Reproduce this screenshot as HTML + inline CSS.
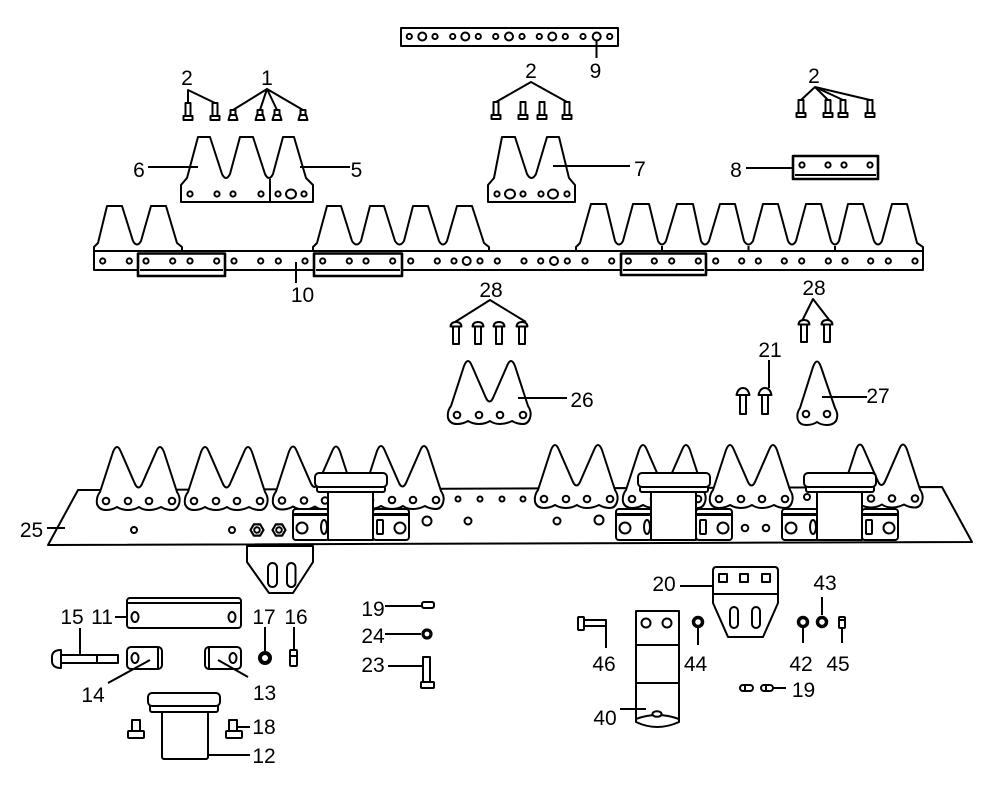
<!DOCTYPE html>
<html><head><meta charset="utf-8"><style>
html,body{margin:0;padding:0;background:#fff;}
svg{display:block;}
text{font-family:"Liberation Sans",sans-serif;font-size:21px;fill:#000;text-anchor:middle;}
</style></head><body>
<svg width="1000" height="787" viewBox="0 0 1000 787" xmlns="http://www.w3.org/2000/svg">
<defs>
<g id="sec">
<path d="M3,492 L16,452 Q20,442 24,452 L38,484 Q41.5,491 45,484 L59,452 Q63,442 67,452 L80,492 Q84,498 82,504 Q80,510 75,510 Q69,510 64,507 Q58,510 52,510 Q46,510 42,507 Q37,510 31,510 Q25,510 20,507 Q15,510 9,510 Q2,510 0,504 Q-1,497 3,492 Z"/>
<circle cx="9" cy="501" r="3.3"/><circle cx="31" cy="501" r="3.3"/><circle cx="52" cy="501" r="3.3"/><circle cx="75" cy="501" r="3.3"/>
</g>
<g id="clamp">
<rect x="-22" y="509" width="36" height="31" rx="3"/>
<rect x="-21" y="513" width="34" height="3" fill="#000" stroke="none"/>
<circle cx="-13" cy="528" r="5.5"/>
<ellipse cx="9" cy="527" rx="3" ry="7"/>
<rect x="58" y="509" width="36" height="31" rx="3"/>
<rect x="59" y="513" width="34" height="3" fill="#000" stroke="none"/>
<rect x="62" y="520" width="6" height="14" rx="1"/>
<circle cx="85" cy="528" r="5.5"/>
<rect x="13" y="487" width="45" height="53"/>
<rect x="2" y="486" width="68" height="6" rx="2"/>
<rect x="0" y="473" width="72" height="14" rx="4"/>
</g>
<g id="bd"><rect x="-2.5" y="0" width="5" height="13"/><rect x="-4.5" y="13" width="9" height="4"/></g>
<g id="b1"><rect x="-2.5" y="0" width="5" height="5"/><path d="M-3,5 L3,5 L4.5,10 L-4.5,10 Z"/></g>
<g id="bu"><rect x="-3" y="4" width="6" height="18"/><path d="M-5.5,4.5 Q-5,0 0,0 Q5,0 5.5,4.5 Z"/></g>
<g id="cb"><rect x="-3" y="5" width="6" height="20"/><path d="M-6.5,6 Q-5,-1 0,-1 Q5,-1 6.5,6 Z"/></g>
</defs>

<g fill="#fff" stroke="#000" stroke-width="2" stroke-linejoin="round">
<!-- part 9 -->
<rect x="401" y="28" width="217" height="18"/>
<g>
<circle cx="409.3" cy="36.5" r="2.6"/><circle cx="422.3" cy="36.5" r="4"/><circle cx="435" cy="36.5" r="2.6"/>
<circle cx="452.7" cy="36.5" r="2.6"/><circle cx="465.3" cy="36.5" r="4"/><circle cx="478.3" cy="36.5" r="2.6"/>
<circle cx="495.7" cy="36.5" r="2.6"/><circle cx="509" cy="36.5" r="4"/><circle cx="522" cy="36.5" r="2.6"/>
<circle cx="539.3" cy="36.5" r="2.6"/><circle cx="552.3" cy="36.5" r="4"/><circle cx="565.3" cy="36.5" r="2.6"/>
<circle cx="583" cy="36.5" r="2.6"/><circle cx="596.7" cy="36.5" r="4"/><circle cx="609.7" cy="36.5" r="2.6"/>
</g>
<path d="M596.5,41 V58" fill="none"/>

<!-- top bolts -->
<use href="#bd" x="188" y="103"/><use href="#bd" x="215" y="103"/>
<use href="#b1" x="233" y="110"/><use href="#b1" x="260" y="110"/><use href="#b1" x="277" y="110"/><use href="#b1" x="303" y="110"/>
<use href="#bd" x="496" y="102"/><use href="#bd" x="523" y="102"/><use href="#bd" x="542" y="102"/><use href="#bd" x="567" y="102"/>
<use href="#bd" x="801" y="100"/><use href="#bd" x="828" y="100"/><use href="#bd" x="843" y="100"/><use href="#bd" x="870" y="100"/>
<path d="M188,103 V90 L215,103 M233,110 L267,89 L260,110 M267,89 L277,110 M267,89 L303,110 M496,102 L531,82 L567,102 M801,100 L815,87 L828,100 M815,87 L843,100 M815,87 L870,100" fill="none"/>

<!-- part 6/5 -->
<path d="M181,202 L181,185 L187,178 L198,137 L210,137 L222,174 Q226,182 230,174 L240,137 L253,137 L265,174 Q269,182 273,174 L283,137 L294,137 L306,178 L313,185 L313,202 Z"/>
<path d="M270,179 V202" fill="none"/>
<circle cx="190" cy="194" r="2.6"/><circle cx="217" cy="194" r="2.6"/><circle cx="233" cy="194" r="2.6"/><circle cx="261" cy="194" r="2.6"/>
<circle cx="278" cy="194" r="2.6"/><ellipse cx="291" cy="194" rx="5" ry="4.5"/><circle cx="304" cy="194" r="2.6"/>
<path d="M148,167 H198 M300,167 H350" fill="none"/>

<!-- part 7 -->
<path d="M488,202 L488,185 L494,178 L502,137 L515,137 L527,174 Q531.5,182 536,174 L547,137 L559,137 L569,178 L575,185 L575,202 Z"/>
<circle cx="497" cy="194" r="2.6"/><ellipse cx="510" cy="194" rx="5" ry="4.5"/><circle cx="523" cy="194" r="2.6"/>
<circle cx="541" cy="194" r="2.6"/><ellipse cx="553" cy="194" rx="5" ry="4.5"/><circle cx="567" cy="194" r="2.6"/>
<path d="M553,166 H630" fill="none"/>

<!-- part 8 -->
<rect x="793" y="156" width="85" height="23" stroke-width="2.6"/>
<path d="M795,175 H876 M746,168 H793" fill="none"/>
<circle cx="802" cy="165" r="2.6"/><circle cx="828" cy="165" r="2.6"/><circle cx="844" cy="165" r="2.6"/><circle cx="870" cy="165" r="2.6"/>

<!-- knife teeth on bar -->
<path d="M94,251 L94,247 L98,243 L107,206 L122,206 L133,241 Q137,248 141,241 L151,206 L166,206 L177,243 L182,247 L182,251 Z"/>
<path d="M313,251 L313,247 L317,243 L327,206 L341,206 L352,241 Q356.5,248 361,241 L370,206 L384,206 L395,241 Q399.5,248 404,241 L413,206 L428,206 L439,241 Q443,248 447,241 L457,206 L472,206 L484,243 L489,247 L489,251 Z"/>
<path d="M576,251 L576,247 L580,243 L591,204 L606,204 L615,241 Q619,248 623,241 L633,204 L649,204 L658,241 Q662,248 666,241 L677,204 L693,204 L701,241 Q705,248 709,241 L720,204 L735,204 L744,241 Q748.5,248 753,241 L763,204 L778,204 L788,241 Q792,248 796,241 L806,204 L821,204 L831,241 Q835,248 839,241 L848,204 L863,204 L874,241 Q878,248 882,241 L892,204 L907,204 L917,243 L923,247 L923,251 Z"/>
<path d="M662,246 V251 M748.5,246 V251 M835,246 V251" fill="none"/>
<!-- bar 10 -->
<rect x="94" y="251" width="829" height="19"/>
<rect x="138" y="253.5" width="87" height="22.5" stroke-width="2.6"/>
<rect x="314" y="253.5" width="88" height="22.5" stroke-width="2.6"/>
<rect x="621" y="253.5" width="85" height="21.5" stroke-width="2.6"/>
<path d="M140,270 H223 M316,270 H400 M623,270 H704" fill="none"/>
<g>
<circle cx="102.7" cy="261" r="2.6"/><circle cx="129.3" cy="261" r="2.6"/><circle cx="146" cy="261" r="2.6"/><circle cx="172.7" cy="261" r="2.6"/>
<circle cx="190" cy="261" r="2.6"/><circle cx="216.7" cy="261" r="2.6"/><circle cx="234" cy="261" r="2.6"/><circle cx="260.7" cy="261" r="2.6"/>
<circle cx="278.3" cy="261" r="2.6"/><circle cx="305" cy="261" r="2.6"/><circle cx="322.7" cy="261" r="2.6"/><circle cx="349.3" cy="261" r="2.6"/>
<circle cx="366" cy="261" r="2.6"/><circle cx="392.7" cy="261" r="2.6"/><circle cx="410.7" cy="261" r="2.6"/><circle cx="437.3" cy="261" r="2.6"/>
<circle cx="454" cy="261" r="2.6"/><circle cx="466.7" cy="261" r="4"/><circle cx="480" cy="261" r="2.6"/><circle cx="497.3" cy="261" r="2.6"/>
<circle cx="524" cy="261" r="2.6"/><circle cx="540.7" cy="261" r="2.6"/><circle cx="554" cy="261" r="4"/><circle cx="567.3" cy="261" r="2.6"/>
<circle cx="585" cy="261" r="2.6"/><circle cx="611.7" cy="261" r="2.6"/><circle cx="628.3" cy="261" r="2.6"/><circle cx="654.3" cy="261" r="2.6"/>
<circle cx="671.7" cy="261" r="2.6"/><circle cx="698.3" cy="261" r="2.6"/><circle cx="715.7" cy="261" r="2.6"/><circle cx="741.7" cy="261" r="2.6"/>
<circle cx="758.3" cy="261" r="2.6"/><circle cx="784.3" cy="261" r="2.6"/><circle cx="801.7" cy="261" r="2.6"/><circle cx="828.3" cy="261" r="2.6"/>
<circle cx="845" cy="261" r="2.6"/><circle cx="870.7" cy="261" r="2.6"/><circle cx="888.3" cy="261" r="2.6"/><circle cx="915" cy="261" r="2.6"/>
</g>
<path d="M296,262 V283" fill="none"/>

<!-- 28 bolts, 26, 27, 21 -->
<use href="#bu" x="456" y="322"/><use href="#bu" x="478" y="322"/><use href="#bu" x="499" y="322"/><use href="#bu" x="522" y="322"/>
<path d="M455,322 L490,300 L526,322" fill="none"/>
<use href="#sec" x="448" y="-86"/>
<path d="M518,398 H567" fill="none"/>
<use href="#bu" x="804" y="320"/><use href="#bu" x="827" y="320"/>
<path d="M802,321 L813,299 L830,321" fill="none"/>
<use href="#cb" x="743" y="389"/><use href="#cb" x="765" y="389"/>
<path d="M769,360 V388" fill="none"/>
<path d="M800,408 L813,367 Q817,356 821,367 L835,408 Q839,415 836,421 Q833,425 827,425 Q821,425 817,422 Q813,425 806,425 Q800,425 798,420 Q796,414 800,408 Z"/>
<circle cx="806" cy="414" r="3.3"/><circle cx="827" cy="414" r="3.3"/>
<path d="M822,397 H867" fill="none"/>

<!-- bracket under plate -->
<path d="M247,546 L247,562 L269,593 L293,593 L313,562 L313,546 Z"/>
<rect x="268" y="563" width="9" height="24" rx="4.5"/>
<rect x="287" y="563" width="8.5" height="24" rx="4.3"/>
<!-- plate 25 -->
<path d="M78,490 L942,487 L972,542 L48,545 Z"/>
<path d="M47,528 L65,528" fill="none"/>
<use href="#sec" x="97" y="0"/>
<use href="#sec" x="185" y="0"/>
<use href="#sec" x="273" y="-0.5"/>
<use href="#sec" x="361" y="-1"/>
<use href="#sec" x="535" y="-2"/>
<use href="#sec" x="623" y="-2"/>
<use href="#sec" x="710" y="-2"/>
<use href="#sec" x="840" y="-2.5"/>
<circle cx="458" cy="499" r="2.5"/><circle cx="480" cy="499" r="2.5"/><circle cx="502" cy="499" r="2.5"/><circle cx="523" cy="499" r="2.5"/>
<circle cx="807" cy="497" r="3"/>
<circle cx="134" cy="530" r="3"/><circle cx="232" cy="530" r="3"/>
<polygon points="263.5,530 260.2,535.6 253.8,535.6 250.5,530 253.8,524.4 260.2,524.4" stroke-width="2.2"/><circle cx="257" cy="530" r="2.8"/>
<polygon points="285.5,530 282.2,535.6 275.8,535.6 272.5,530 275.8,524.4 282.2,524.4" stroke-width="2.2"/><circle cx="279" cy="530" r="2.8"/>
<circle cx="427" cy="521" r="4.5"/><circle cx="468" cy="521" r="3.5"/>
<circle cx="557" cy="521" r="3.5"/><circle cx="599" cy="520" r="4.5"/>
<circle cx="745" cy="528" r="3.3"/><circle cx="766" cy="528" r="3.3"/>
<use href="#clamp" x="315" y="0"/>
<use href="#clamp" x="638" y="0"/>
<use href="#clamp" x="804" y="0"/>

<!-- part 11 -->
<rect x="127" y="598" width="114" height="30" rx="3"/>
<path d="M128,603 H240 M115,617 H127" fill="none"/>
<ellipse cx="135" cy="617" rx="3.5" ry="5"/><ellipse cx="232" cy="617" rx="3.5" ry="5"/>
<!-- bolt 15 -->
<path d="M80,628 V656" fill="none"/>
<rect x="61" y="655" width="57" height="8"/>
<path d="M97,655 V663" fill="none"/>
<path d="M61,650 Q51,650 52,659 Q51,668 61,668 Z"/>
<!-- 14 / 13 -->
<rect x="127" y="647" width="35" height="22" rx="4"/>
<path d="M158,648 V668" fill="none"/>
<ellipse cx="135" cy="658" rx="3.5" ry="5"/>
<path d="M150,660 L108,683" fill="none"/>
<rect x="205" y="647" width="36" height="22" rx="4"/>
<path d="M209,648 V668" fill="none"/>
<ellipse cx="233" cy="658" rx="3.5" ry="5"/>
<path d="M218,660 L248,677" fill="none"/>
<!-- 17 / 16 -->
<path d="M265,627 V651 M294,627 V650" fill="none"/>
<circle cx="265" cy="658" r="5" stroke-width="4"/>
<rect x="290" y="650" width="7" height="16" rx="1"/>
<path d="M290,656 H297" fill="none"/>
<!-- part 12 -->
<rect x="162" y="710" width="46" height="49" rx="2"/>
<rect x="150" y="704" width="68" height="8" rx="2"/>
<rect x="148" y="693" width="72" height="13" rx="4"/>
<rect x="132" y="720" width="8" height="12"/><rect x="128" y="731" width="16" height="7" rx="1"/>
<rect x="229" y="720" width="8" height="12"/><rect x="226" y="731" width="16" height="7" rx="1"/>
<path d="M236,727 H250 M208,755 H250" fill="none"/>
<!-- 19, 24, 23 left -->
<path d="M385,606 H422 M385,634 H421 M388,666 H423" fill="none"/>
<rect x="422" y="602" width="12" height="6" rx="2"/>
<circle cx="427" cy="634" r="4" stroke-width="3.2"/>
<rect x="423" y="657" width="7" height="25"/>
<rect x="421" y="682" width="13" height="6" rx="1"/>

<!-- part 20 -->
<path d="M716,567 L775,567 Q778,567 778,571 L778,603 L763,637 L728,637 L713,603 L713,571 Q713,567 716,567 Z"/>
<path d="M713,594 H778 M680,586 H713" fill="none"/>
<rect x="719" y="574" width="8" height="8"/><rect x="740" y="574" width="8" height="8"/><rect x="762" y="574" width="8" height="8"/>
<rect x="730" y="607" width="8" height="21" rx="4"/><rect x="752" y="607" width="8" height="21" rx="4"/>
<!-- part 40 -->
<path d="M636,611 L679,611 L679,722 Q657,732 636,722 Z"/>
<path d="M636,719 Q657,711 679,719 M637,645 H678 M637,683 H678 M620,709 H646" fill="none"/>
<circle cx="646" cy="623" r="4.5"/><circle cx="667" cy="623" r="4.5"/>
<ellipse cx="657" cy="714" rx="4.5" ry="2.8"/>
<!-- 46 -->
<rect x="584" y="620" width="22" height="6"/>
<rect x="578" y="617" width="6" height="13" rx="1"/>
<path d="M606,626 V648" fill="none"/>
<!-- 44 42 43 45 -->
<circle cx="698" cy="622" r="4.5" stroke-width="3.5"/>
<path d="M698,628 V645" fill="none"/>
<circle cx="803" cy="622" r="4.5" stroke-width="3.5"/>
<path d="M803,628 V643" fill="none"/>
<circle cx="822" cy="622" r="4.5" stroke-width="3.5"/>
<path d="M822,597 V615" fill="none"/>
<rect x="839" y="617" width="6" height="11" rx="1"/>
<path d="M839,620 H845 M842,628 V643" fill="none"/>
<!-- 19 right -->
<rect x="740" y="685" width="13" height="6" rx="3"/><rect x="761" y="685" width="12" height="6" rx="3"/>
<path d="M745,685 V691 M766,685 V691 M773,688 H786" fill="none"/>
</g>

<g>
<text x="187" y="85">2</text>
<text x="267" y="85">1</text>
<text x="531" y="78">2</text>
<text x="595.5" y="78">9</text>
<text x="814" y="83">2</text>
<text x="139" y="177">6</text>
<text x="356.5" y="177">5</text>
<text x="640" y="176">7</text>
<text x="736" y="177">8</text>
<text x="302.5" y="302">10</text>
<text x="491" y="297">28</text>
<text x="814" y="295">28</text>
<text x="770" y="357">21</text>
<text x="582" y="407">26</text>
<text x="878" y="403">27</text>
<text x="31.5" y="537">25</text>
<text x="664" y="591">20</text>
<text x="825" y="590">43</text>
<text x="72" y="624">15</text>
<text x="102" y="624">11</text>
<text x="264" y="624">17</text>
<text x="296" y="624">16</text>
<text x="373" y="616">19</text>
<text x="373" y="643">24</text>
<text x="373" y="672">23</text>
<text x="93" y="702">14</text>
<text x="264.5" y="700">13</text>
<text x="264" y="734">18</text>
<text x="264" y="763">12</text>
<text x="604" y="671">46</text>
<text x="695.5" y="671">44</text>
<text x="801" y="671">42</text>
<text x="838" y="671">45</text>
<text x="803.5" y="697">19</text>
<text x="605" y="725">40</text>
</g>
</svg>
</body></html>
